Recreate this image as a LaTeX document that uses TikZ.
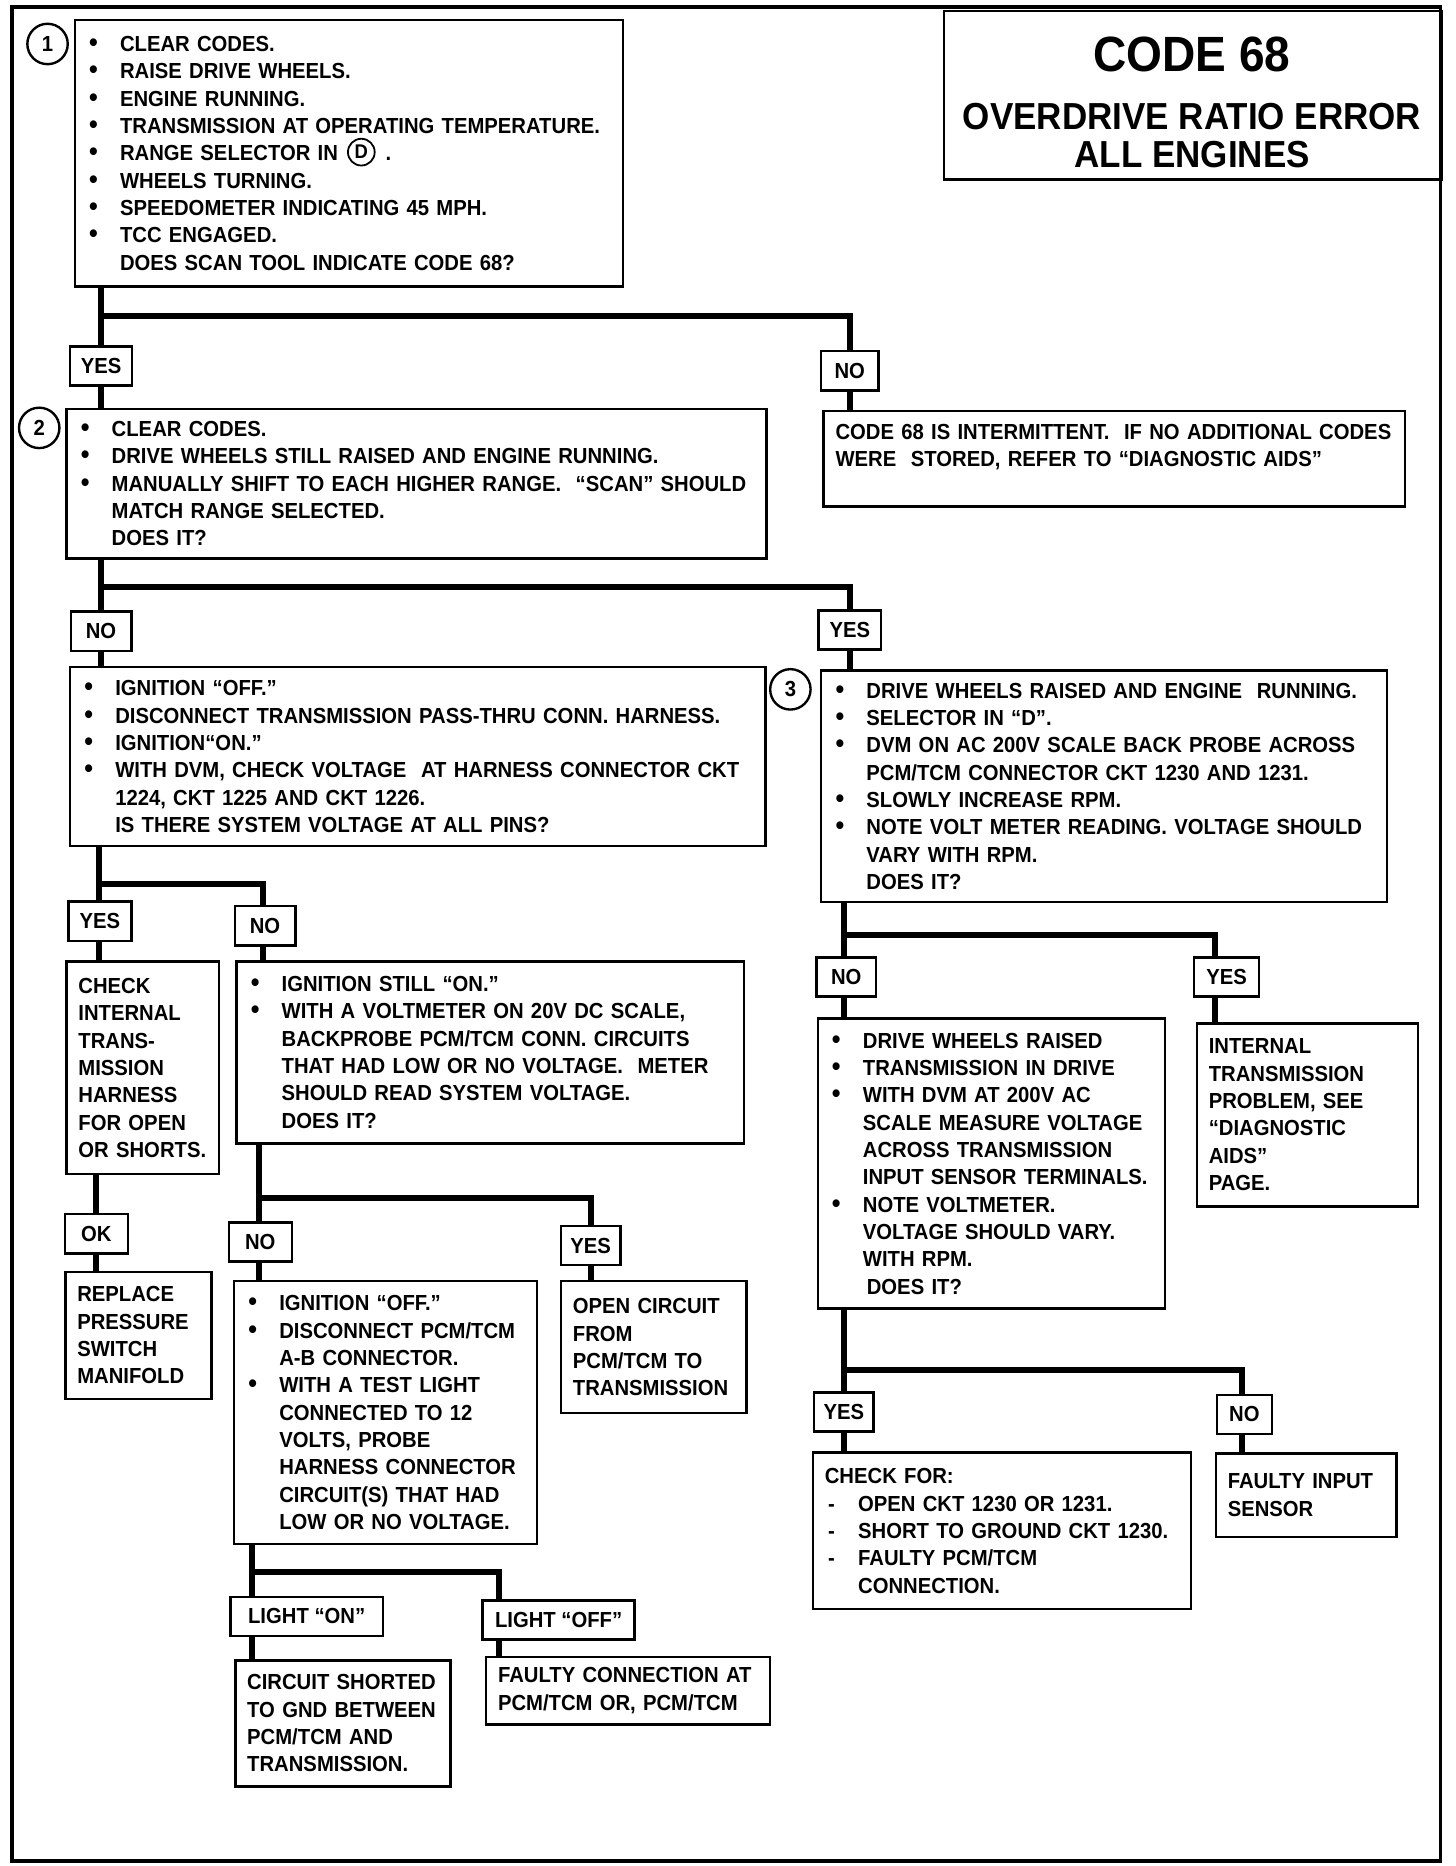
\documentclass[tikz,border=0pt]{standalone}
\usepackage{fontspec}
\setmainfont{Liberation Sans}[FakeStretch=0.93]

\newcommand\bu{\makebox[16.8pt][l]{\hspace{1.2pt}{\fontsize{13.5}{13}\selectfont\textbullet}}}
\newcommand\tb{\hspace*{16.8pt}}
\newcommand\dl{\makebox[16.8pt][l]{\hspace{1.6pt}-}}

\tikzset{
  box/.style 2 args={draw, line width=1.2pt, anchor=north west, align=left,
    minimum width=#1*0.6pt, minimum height=#2*0.6pt,
    text width=#1*0.6pt-12pt, inner xsep=6pt, inner ysep=1pt,
    font=\fontsize{11}{13.8}\selectfont\bfseries},
  lab/.style={draw, line width=1.2pt, minimum width=#1*0.6pt, minimum height=19.8pt,
    inner sep=0pt, font=\fontsize{11}{13.8}\selectfont\bfseries},
  num/.style={draw, circle, line width=1.2pt, minimum size=20.4pt, inner sep=0pt,
    font=\fontsize{11}{13}\selectfont\bfseries},
  conn/.style={line width=3pt, line join=miter}
}

\begin{document}
\begin{tikzpicture}[x=0.6pt,y=-0.6pt]
\useasboundingbox (0,0) rectangle (1225,1570);
\draw[line width=1.8pt] (10,6) rectangle (1212,1566);

% title
\node[draw, line width=1.2pt, anchor=north west, minimum width=251.4pt, minimum height=85.2pt] (title) at (793,8) {};
\node[font=\fontsize{25}{26}\selectfont\bfseries] (code) at (1003,46) {CODE 68};
\node[font=\fontsize{19}{20}\selectfont\bfseries] (err) at (1003,98) {OVERDRIVE RATIO ERROR};
\node[font=\fontsize{19}{20}\selectfont\bfseries] (eng) at (1003,130) {ALL ENGINES};

% step 1
\node[num] (c1) at (40,37) {1};
\node[box={461}{224}] (s1) at (62,16) {\bu CLEAR CODES.\\
\bu RAISE DRIVE WHEELS.\\
\bu ENGINE RUNNING.\\
\bu TRANSMISSION AT OPERATING TEMPERATURE.\\
\bu RANGE SELECTOR IN\hspace{24pt}.\\
\bu WHEELS TURNING.\\
\bu SPEEDOMETER INDICATING 45 MPH.\\
\bu TCC ENGAGED.\\
\tb DOES SCAN TOOL INDICATE CODE 68?};
\node[draw, circle, line width=0.9pt, minimum size=13.5pt, inner sep=0pt,
  font=\fontsize{10}{10}\selectfont\bfseries] (dsel) at (304,128) {D};
\node[lab=52] (y1) at (85,308) {YES};
\node[lab=48] (n1) at (715,312) {NO};
\node[box={489}{80}] (inter) at (692,345) {CODE 68 IS INTERMITTENT.\ \ IF NO ADDITIONAL CODES\\
WERE\ \ STORED, REFER TO “DIAGNOSTIC AIDS”\\ \mbox{}};

% step 2
\node[num] (c2) at (33,360) {2};
\node[box={589}{126}] (s2) at (55,343) {\bu CLEAR CODES.\\
\bu DRIVE WHEELS STILL RAISED AND ENGINE RUNNING.\\
\bu MANUALLY SHIFT TO EACH HIGHER RANGE.\ \ “SCAN” SHOULD\\
\tb MATCH RANGE SELECTED.\\
\tb DOES IT?};
\node[lab=51] (n2) at (85,531) {NO};
\node[lab=53] (y2) at (715,530) {YES};

% left branch
\node[box={585}{151}] (s4) at (58,560) {\bu IGNITION “OFF.”\\
\bu DISCONNECT TRANSMISSION PASS-THRU CONN. HARNESS.\\
\bu IGNITION“ON.”\\
\bu WITH DVM, CHECK VOLTAGE\ \ AT HARNESS CONNECTOR CKT\\
\tb 1224, CKT 1225 AND CKT 1226.\\
\tb IS THERE SYSTEM VOLTAGE AT ALL PINS?};
\node[lab=53] (y3) at (84,775) {YES};
\node[lab=51] (n3) at (223,779) {NO};
\node[box={128}{179}] (chk) at (55,808) {CHECK\\ INTERNAL\\ TRANS-\\ MISSION\\ HARNESS\\ FOR OPEN\\ OR SHORTS.};
\node[box={427}{153}] (s5) at (198,808) {\bu IGNITION STILL “ON.”\\
\bu WITH A VOLTMETER ON 20V DC SCALE,\\
\tb BACKPROBE PCM/TCM CONN. CIRCUITS\\
\tb THAT HAD LOW OR NO VOLTAGE.\ \ METER\\
\tb SHOULD READ SYSTEM VOLTAGE.\\
\tb DOES IT?};
\node[lab=53] (ok) at (81,1038) {OK};
\node[box={123}{107}] (repl) at (54,1069) {REPLACE\\ PRESSURE\\ SWITCH\\ MANIFOLD};
\node[lab=53] (n4) at (219,1045) {NO};
\node[lab=50] (y4) at (497,1048) {YES};
\node[box={255}{221}] (s6) at (196,1077) {\bu IGNITION “OFF.”\\
\bu DISCONNECT PCM/TCM\\
\tb A-B CONNECTOR.\\
\bu WITH A TEST LIGHT\\
\tb CONNECTED TO 12\\
\tb VOLTS, PROBE\\
\tb HARNESS CONNECTOR\\
\tb CIRCUIT(S) THAT HAD\\
\tb LOW OR NO VOLTAGE.};
\node[box={156}{111}] (open) at (471,1077) {OPEN CIRCUIT\\ FROM\\ PCM/TCM TO\\ TRANSMISSION};
\node[lab=128] (lon) at (258,1360) {LIGHT “ON”};
\node[lab=128] (loff) at (470,1363) {LIGHT “OFF”};
\node[box={181}{106}] (short) at (197,1396) {CIRCUIT SHORTED\\ TO GND BETWEEN\\ PCM/TCM AND\\ TRANSMISSION.};
\node[box={239}{57}] (fconn) at (408,1393) {FAULTY CONNECTION AT\\ PCM/TCM OR, PCM/TCM};

% step 3
\node[num] (c3) at (665,580) {3};
\node[box={476}{195}] (s3) at (690,563) {\bu DRIVE WHEELS RAISED AND ENGINE\ \ RUNNING.\\
\bu SELECTOR IN “D”.\\
\bu DVM ON AC 200V SCALE BACK PROBE ACROSS\\
\tb PCM/TCM CONNECTOR CKT 1230 AND 1231.\\
\bu SLOWLY INCREASE RPM.\\
\bu NOTE VOLT METER READING. VOLTAGE SHOULD\\
\tb VARY WITH RPM.\\
\tb DOES IT?};
\node[lab=50] (n5) at (712,822) {NO};
\node[lab=55] (y5) at (1032,822) {YES};
\node[box={292}{244}] (s7) at (687,856) {\bu DRIVE WHEELS RAISED\\
\bu TRANSMISSION IN DRIVE\\
\bu WITH DVM AT 200V AC\\
\tb SCALE MEASURE VOLTAGE\\
\tb ACROSS TRANSMISSION\\
\tb INPUT SENSOR TERMINALS.\\
\bu NOTE VOLTMETER.\\
\tb VOLTAGE SHOULD VARY.\\
\tb WITH RPM.\\
\tb\hspace*{2pt}DOES IT?};
\node[box={186}{154}] (internal) at (1006,860) {INTERNAL\\ TRANSMISSION\\ PROBLEM, SEE\\ “DIAGNOSTIC\\ AIDS”\\ PAGE.};
\node[lab=50] (y6) at (710,1188) {YES};
\node[lab=46] (n6) at (1047,1190) {NO};
\node[box={318}{132}] (chkfor) at (683,1221) {CHECK FOR:\\
\dl OPEN CKT 1230 OR 1231.\\
\dl SHORT TO GROUND CKT 1230.\\
\dl FAULTY PCM/TCM\\
\tb CONNECTION.};
\node[box={152}{70}] (finput) at (1022,1222) {FAULTY INPUT\\ SENSOR};

% junctions
\coordinate (a1) at (85,266);  \coordinate (b1) at (715,266);
\coordinate (a2) at (85,494);  \coordinate (b2) at (715,494);
\coordinate (a3) at (83,744);  \coordinate (b3) at (221,744);
\coordinate (a5) at (218,1008); \coordinate (b5) at (497,1008);
\coordinate (a6) at (212,1323); \coordinate (b6) at (420,1323);
\coordinate (a7) at (710,787); \coordinate (b7) at (1022,787);
\coordinate (a8) at (710,1153); \coordinate (b8) at (1045,1153);

\draw[conn] (s1.south -| a1) -- (y1.north -| a1);
\draw[conn] (a1) -- (b1) -- (n1.north -| b1);
\draw[conn] (y1.south -| a1) -- (s2.north -| a1);
\draw[conn] (n1.south -| b1) -- (inter.north -| b1);

\draw[conn] (s2.south -| a2) -- (n2.north -| a2);
\draw[conn] (a2) -- (b2) -- (y2.north -| b2);
\draw[conn] (n2.south -| a2) -- (s4.north -| a2);
\draw[conn] (y2.south -| b2) -- (s3.north -| b2);

\draw[conn] (s4.south -| a3) -- (y3.north -| a3);
\draw[conn] (a3) -- (b3) -- (n3.north -| b3);
\draw[conn] (y3.south -| a3) -- (chk.north -| a3);
\draw[conn] (n3.south -| b3) -- (s5.north -| b3);

\draw[conn] (chk.south -| ok) -- (ok.north);
\draw[conn] (ok.south) -- (repl.north -| ok);

\draw[conn] (s5.south -| a5) -- (n4.north -| a5);
\draw[conn] (a5) -- (b5) -- (y4.north -| b5);
\draw[conn] (n4.south -| a5) -- (s6.north -| a5);
\draw[conn] (y4.south -| b5) -- (open.north -| b5);

\draw[conn] (s6.south -| a6) -- (lon.north -| a6);
\draw[conn] (a6) -- (b6) -- (loff.north -| b6);
\draw[conn] (lon.south -| a6) -- (short.north -| a6);
\draw[conn] (loff.south -| b6) -- (fconn.north -| b6);

\draw[conn] (s3.south -| a7) -- (n5.north -| a7);
\draw[conn] (a7) -- (b7) -- (y5.north -| b7);
\draw[conn] (n5.south -| a7) -- (s7.north -| a7);
\draw[conn] (y5.south -| b7) -- (internal.north -| b7);

\draw[conn] (s7.south -| a8) -- (y6.north -| a8);
\draw[conn] (a8) -- (b8) -- (n6.north -| b8);
\draw[conn] (y6.south -| a8) -- (chkfor.north -| a8);
\draw[conn] (n6.south -| b8) -- (finput.north -| b8);
\end{tikzpicture}
\end{document}
